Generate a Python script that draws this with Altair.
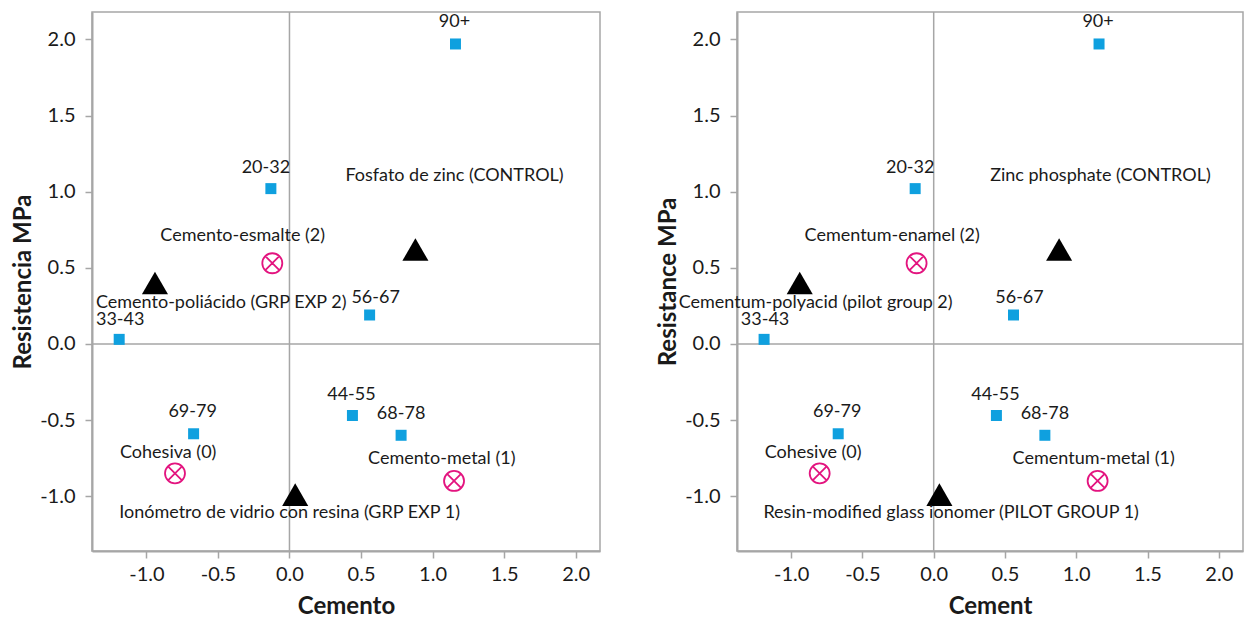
import altair as alt
import pandas as pd

# ---- data ----
ages = ["90+", "20-32", "56-67", "33-43", "69-79", "44-55", "68-78"]
age_x = [1.16, -0.13, 0.56, -1.19, -0.67, 0.44, 0.78]
age_y = [1.97, 1.02, 0.19, 0.03, -0.59, -0.47, -0.60]

cement_es = ["Fosfato de zinc (CONTROL)", "Cemento-poliácido (GRP EXP 2)",
             "Ionómetro de vidrio con resina (GRP EXP 1)"]
cement_en = ["Zinc phosphate (CONTROL)", "Cementum-polyacid (pilot group 2)",
             "Resin-modified glass ionomer  (PILOT GROUP  1)"]
cement_x = [0.88, -0.94, 0.04]
cement_y = [0.62, 0.40, -0.99]

fail_es = ["Cemento-esmalte (2)", "Cohesiva (0)", "Cemento-metal (1)"]
fail_en = ["Cementum-enamel (2)", "Cohesive (0)", "Cementum-metal (1)"]
fail_x = [-0.12, -0.80, 1.15]
fail_y = [0.53, -0.85, -0.90]

tick_values = [-1.0, -0.5, 0.0, 0.5, 1.0, 1.5, 2.0]

# ---- label offsets (pixels, style only) ----
age_off = [(-1, -22), (-5, -21), (6, -17), (1, -19), (-1, -22), (-1, -20), (0, -21)]
cem_off_es = [(-70, -74), (-59, 20), (-176, 18)]
cem_off_en = [(-69, -74), (-121, 20), (-176, 18)]
fail_off_es = [(-112, -27), (-55, -20), (-86, -22)]
fail_off_en = [(-112, -27), (-55, -20), (-85, -22)]

FONT = "Lato"
GRAY = "#a6a6a6"
TXT = "#1a1a1a"
BLUE = "#0fa0df"
MAGENTA = "#e3147f"
CIRCLE_X = ("M-1,0A1,1,0,1,0,1,0A1,1,0,1,0,-1,0Z"
            "M-0.7,-0.7L0.7,0.7M-0.7,0.7L0.7,-0.7")

XSCALE = alt.Scale(domain=[-1.38, 2.17], nice=False, zero=False)
YSCALE = alt.Scale(domain=[-1.36, 2.18], nice=False, zero=False)
LABEL_EXPR = "(datum.value < 0 ? '-' : '') + format(abs(datum.value), '.1f')"


def panel(cem_labels, fail_labels, xtitle, ytitle, cem_off, fail_off, width):
    df_age = pd.DataFrame({"x": age_x, "y": age_y, "label": ages})
    df_cem = pd.DataFrame({"x": cement_x, "y": cement_y, "label": cem_labels})
    df_fail = pd.DataFrame({"x": fail_x, "y": fail_y, "label": fail_labels})
    df_zero = pd.DataFrame({"z": [0.0]})

    xax = alt.Axis(values=tick_values, labelExpr=LABEL_EXPR, title=xtitle,
                   labelPadding=6, titlePadding=10)
    yax = alt.Axis(values=tick_values, labelExpr=LABEL_EXPR, title=ytitle,
                   labelPadding=10, titlePadding=4)

    x = alt.X("x:Q", scale=XSCALE, axis=xax)
    y = alt.Y("y:Q", scale=YSCALE, axis=yax)

    vrule = alt.Chart(df_zero).mark_rule(color=GRAY, strokeWidth=1.5).encode(
        x=alt.X("z:Q", scale=XSCALE, axis=xax))
    hrule = alt.Chart(df_zero).mark_rule(color=GRAY, strokeWidth=1.5).encode(
        y=alt.Y("z:Q", scale=YSCALE, axis=yax))

    squares = alt.Chart(df_age).mark_point(
        shape="square", filled=True, size=121, color=BLUE, opacity=1
    ).encode(x=x, y=y)
    tris = alt.Chart(df_cem).mark_point(
        shape="triangle-up", filled=True, size=680, color="black", opacity=1
    ).encode(x=x, y=y)
    circs = alt.Chart(df_fail).mark_point(
        shape=CIRCLE_X, filled=False, size=400, color=MAGENTA, strokeWidth=1.8,
        opacity=1
    ).encode(x=x, y=y)

    layers = [vrule, hrule, squares, tris, circs]

    for lab, (dx, dy) in zip(ages, age_off):
        layers.append(
            alt.Chart(df_age).transform_filter(alt.datum.label == lab)
            .mark_text(align="center", baseline="middle", dx=dx, dy=dy,
                       font=FONT, fontSize=18, color=TXT)
            .encode(x=x, y=y, text="label:N"))
    for df, labs, offs in ((df_cem, cem_labels, cem_off), (df_fail, fail_labels, fail_off)):
        for lab, (dx, dy) in zip(labs, offs):
            layers.append(
                alt.Chart(df).transform_filter(alt.datum.label == lab)
                .mark_text(align="left", baseline="middle", dx=dx, dy=dy,
                           font=FONT, fontSize=18, color=TXT)
                .encode(x=x, y=y, text="label:N"))

    return alt.layer(*layers).properties(width=width, height=539)


left = panel(cement_es, fail_es, "Cemento", "Resistencia MPa", cem_off_es, fail_off_es, 508)
right = panel(cement_en, fail_en, "Cement", "Resistance  MPa", cem_off_en, fail_off_en, 506)

chart = alt.hconcat(left, right, spacing=53).properties(
    padding={"left": 2, "top": 2, "right": 0, "bottom": 0}
).configure_view(
    stroke=GRAY, strokeWidth=1.5
).configure_axis(
    grid=False, domainColor=GRAY, domainWidth=2, tickColor=GRAY, tickWidth=1.5,
    tickSize=7, labelFont=FONT, labelFontSize=20, labelColor=TXT,
    labelFlush=False, labelOverlap=False,
    titleFont=FONT, titleFontSize=24, titleFontWeight="bold", titleColor=TXT
).configure_concat(spacing=53)

chart.save("out.html", embed_options={"renderer": "svg", "actions": False})
